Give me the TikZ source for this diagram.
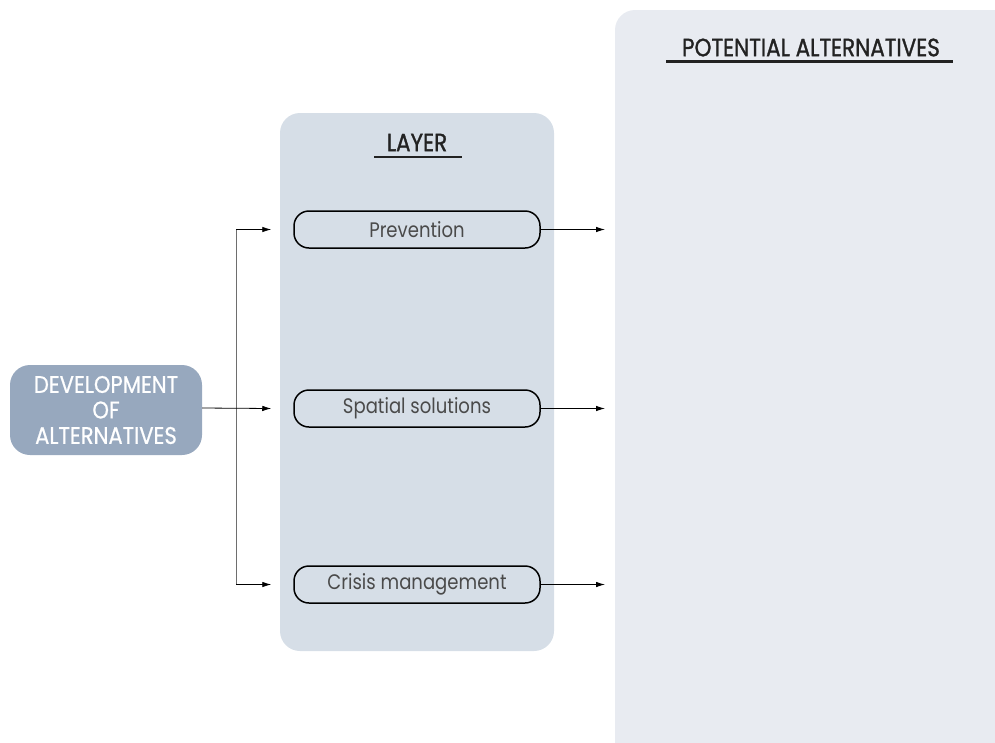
\documentclass[tikz,border=0pt]{standalone}
\usepackage{fontspec}
\setmainfont{Poppins}[FakeStretch=0.86]
\newfontfamily\headfont{Poppins}[FakeStretch=0.86, FakeBold=1.2]
\newfontfamily\devfont{Poppins}[FakeStretch=0.88, FakeBold=0.7]
\usetikzlibrary{arrows.meta}
\definecolor{devfill}{HTML}{97A8BE}
\definecolor{layerfill}{HTML}{D6DEE7}
\definecolor{potfill}{HTML}{E8EBF1}
\definecolor{labelgrey}{HTML}{4A4A4A}
\definecolor{titleink}{HTML}{222222}
\definecolor{trunk}{HTML}{6E6E6E}
\tikzset{
  panel/.style={rounded corners=20pt, draw=none},
  layerbox/.style={draw=black, line width=1.5pt, rounded corners=15pt, fill=layerfill,
    minimum width=246pt, minimum height=37pt, inner sep=0pt,
    text=labelgrey, font=\fontsize{21}{24}\selectfont},
  titletext/.style={text=titleink, font=\headfont\fontsize{25}{28}\selectfont, inner sep=0pt},
  underline/.style={draw=titleink, line width=2.2pt},
  link/.style={draw=black, line width=0.8pt, -{Latex[length=9pt,width=5.5pt]}},
}
\begin{document}
\begin{tikzpicture}[x=1pt, y=-1pt]
  \useasboundingbox (0,0) rectangle (995,742);
  % background panels
  \path[panel, fill=potfill] (615,10) rectangle (1030,780);
  \path[panel, fill=layerfill] (280,113) rectangle (554,651);

  % panel titles
  \node[titletext] (pottitle) at (811,47.5) {POTENTIAL ALTERNATIVES};
  \draw[underline] (666,61.5) -- (953,61.5);
  \node[titletext] (layertitle) at (417,142.5) {LAYER};
  \draw[underline] (374,157) -- (462,157);

  % source node
  \node[fill=devfill, rounded corners=20pt, minimum width=192pt, minimum height=90pt,
        inner sep=0pt, text=white, align=center,
        font=\devfont\fontsize{24}{25.5}\selectfont] (dev) at (106,410)
        {DEVELOPMENT\\OF\\ALTERNATIVES};

  % layer boxes
  \node[layerbox] (prev) at (417,229.5) {Prevention};
  \node[layerbox] (spat) at (417,408.5) {Spatial solutions};
  \node[layerbox] (cris) at (417,584.5) {Crisis management};

  % branching connectors
  \coordinate (split) at (236,408);
  \coordinate (topturn) at (236,229.5);
  \coordinate (botturn) at (236,584.5);
  \draw[draw=trunk, line width=1pt] (topturn) -- (botturn);
  \draw[link] (dev.east |- split) -- ([xshift=-22pt]spat.west);
  \draw[link] (topturn) -- ([xshift=-22pt]prev.west);
  \draw[link] (botturn) -- ([xshift=-22pt]cris.west);

  % outgoing arrows
  \coordinate (o1) at (605,229.5);
  \coordinate (o2) at (605,408.5);
  \coordinate (o3) at (605,584.5);
  \draw[link] (prev.east) -- (o1);
  \draw[link] (spat.east) -- (o2);
  \draw[link] (cris.east) -- (o3);
\end{tikzpicture}
\end{document}
